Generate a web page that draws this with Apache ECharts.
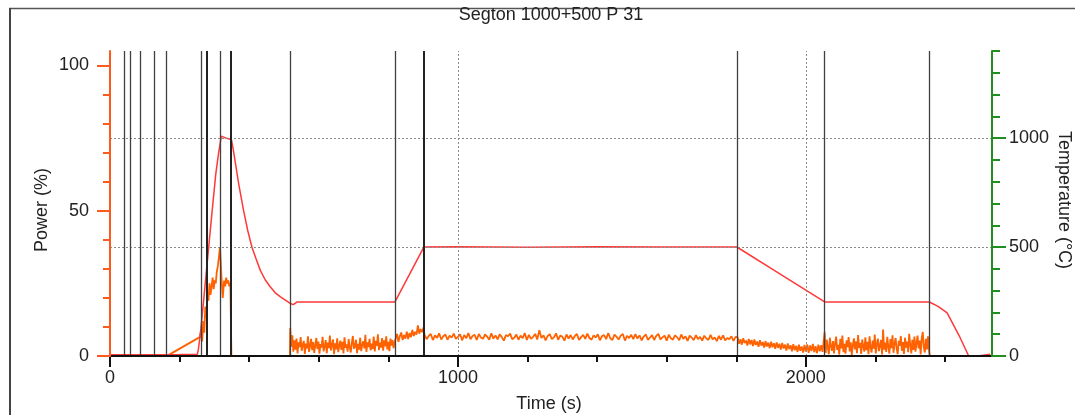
<!DOCTYPE html>
<html><head><meta charset="utf-8">
<script src="https://cdn.jsdelivr.net/npm/echarts@6/dist/echarts.min.js"></script>
<style>html,body{margin:0;padding:0;background:#fff}#c{width:1075px;height:415px}</style>
</head><body><div id="c"></div>
<script>
// ---------- texts ----------
const TITLE = 'Segton 1000+500 P 31';
const X_NAME = 'Time (s)';
const YL_NAME = 'Power (%)';
const YR_NAME = 'Temperature (°C)';

// ---------- ticks ----------
const X_MAJOR = [0, 1000, 2000];
const X_MINOR = [200, 400, 600, 800, 1200, 1400, 1600, 1800, 2200, 2400];
const P_MAJOR = [0, 50, 100];
const P_MINOR = [10, 20, 30, 40, 60, 70, 80, 90];
const T_MAJOR = [0, 500, 1000];
const T_MINOR = [100, 200, 300, 400, 600, 700, 800, 900, 1100, 1200, 1300, 1400];
const GRID_T = [500, 1000];
const GRID_X = [1000, 2000];

// ---------- event markers (s) ----------
const EVENT_THIN = [40, 57, 88, 126, 162, 263, 315.5, 518, 819, 1802, 2054, 2355];
const EVENT_THICK = [279, 348, 902];

// ---------- temperature (°C) ----------
const tempTime  = [0, 100, 200, 251, 254, 260, 270, 280, 292, 304, 312, 320, 332, 349, 355, 361, 370, 384, 396, 408, 420, 432, 446, 461, 475, 490, 504, 518, 527, 538, 600, 700, 819, 860, 902, 1000, 1200, 1400, 1600, 1802, 1812, 1900, 2000, 2054, 2200, 2355, 2380, 2406, 2440, 2468, 2495, 2500, 2530];
const tempValue = [6, 6, 7, 8, 30, 105, 270, 438, 640, 835, 930, 1009, 1001, 994, 940, 880, 789, 667, 575, 499, 445, 393, 350, 317, 290, 271, 256, 241, 236, 248, 248, 248, 248, 372, 500, 501, 499, 501, 500, 500, 490, 402, 302, 248, 248, 248, 228, 198, 95, 0, 0, 8, 8];

// ---------- power (%) ----------
const powerStartTime  = [0, 100, 168, 258, 262, 265, 268, 271, 274, 277, 280, 283, 286, 289, 292, 295, 298, 301, 304, 307, 310, 313, 316, 318, 320, 322, 324, 326, 328, 331, 334, 337, 340, 343, 346, 348, 349, 517];
const powerStartValue = [0.3, 0.3, 0.3, 6.5, 9, 5, 12, 8, 17, 13, 22, 19, 25, 21, 24, 27, 23, 26, 25, 29, 31, 34, 37.5, 33, 28, 24, 20, 23, 26, 24, 27, 25, 26, 24, 25, 25, 0, 0];
// hold at ~250 °C (518–818 s, every 3 s)
const holdA_t0 = 518, holdA_dt = 3;
const holdA = [9.6, 3.2, 7.1, 1.5, 5.4, 2.2, 6.0, 0.9, 4.7, 3.1,
  6.5, 1.8, 3.9, 5.2, 0.7, 4.3, 2.6, 6.8, 1.4, 3.5,
  5.9, 2.0, 4.8, 1.1, 3.7, 6.2, 2.4, 5.0, 0.8, 4.1,
  2.9, 6.6, 1.6, 3.3, 5.5, 1.0, 4.6, 2.7, 7.0, 1.9,
  3.8, 5.7, 0.6, 4.4, 2.3, 6.1, 1.3, 3.6, 5.3, 2.1,
  4.9, 0.9, 6.4, 2.8, 4.0, 1.5, 5.8, 3.0, 1.2, 4.5,
  6.9, 2.5, 3.4, 5.6, 1.0, 4.2, 2.2, 6.3, 1.7, 3.9,
  5.1, 2.6, 7.3, 1.4, 4.7, 3.1, 5.9, 1.9, 4.3, 2.4,
  6.7, 1.6, 5.2, 3.5, 7.5, 2.0, 4.6, 2.9, 6.2, 1.8,
  5.4, 3.3, 6.8, 2.3, 4.9, 1.7, 6.0, 3.6, 5.5, 2.7,
  4.8];
// ramp to 500 °C (821–901 s)
const rampB_t0 = 821, rampB_dt = 4;
const rampB = [5.2, 7.6, 4.9, 6.8, 8.1, 5.5, 7.2, 6.0, 8.4, 5.8,
  7.9, 6.5, 9.0, 6.9, 8.3, 7.4, 10.5, 7.7, 9.3, 8.2, 9.8];
// soak at 500 °C (904–1798 s)
const soakC_t0 = 904, soakC_dt = 6;
const soakC = [7.3, 5.8, 6.9, 7.6, 5.5, 7.1, 6.2, 7.8, 5.7, 6.8,
  7.4, 5.6, 7.0, 6.3, 7.7, 5.9, 6.6, 7.5, 5.4, 7.2,
  6.1, 7.9, 5.8, 6.9, 7.3, 5.5, 7.6, 6.4, 5.9, 7.4,
  6.7, 5.6, 7.8, 6.0, 7.1, 5.7, 7.5, 6.5, 5.3, 7.2,
  6.8, 7.7, 5.8, 6.3, 7.4, 5.6, 7.0, 6.1, 7.9, 5.5,
  7.3, 5.9, 6.6, 7.6, 5.7, 8.9, 6.2, 7.1, 5.4, 6.9,
  7.5, 5.8, 6.4, 7.8, 5.6, 7.0, 6.7, 5.3, 7.4, 6.0,
  7.2, 5.7, 6.9, 7.6, 5.5, 6.5, 7.3, 5.9, 7.7, 6.2,
  5.6, 7.1, 6.4, 7.5, 5.4, 6.8, 7.2, 5.8, 7.9, 6.1,
  5.5, 7.4, 6.6, 5.7, 7.0, 7.6, 5.3, 6.9, 6.2, 7.3,
  5.8, 7.5, 6.0, 7.1, 5.4, 6.7, 7.4, 5.6, 6.3, 7.2,
  5.5, 6.9, 7.6, 5.7, 6.4, 7.0, 5.3, 7.3, 6.1, 5.6,
  7.1, 6.5, 5.4, 7.4, 5.9, 6.8, 5.2, 7.0, 6.3, 5.5,
  7.2, 5.8, 6.6, 5.3, 7.0, 6.0, 5.5, 7.3, 5.7, 6.4,
  5.1, 6.9, 5.6, 7.1, 5.4, 6.2, 5.8, 6.8, 5.2, 6.6];
// cooling ramp (1804–2048 s)
const coolD_t0 = 1804, coolD_dt = 4;
const coolD = [6.4, 4.2, 5.8, 3.9, 6.1, 4.5, 5.3, 3.6, 5.9, 4.0,
  5.5, 3.4, 5.7, 3.8, 5.0, 3.2, 5.4, 3.6, 4.8, 2.9,
  5.1, 3.3, 4.6, 2.7, 4.9, 3.0, 4.4, 2.5, 4.7, 2.8,
  4.2, 2.2, 4.5, 2.6, 3.9, 1.9, 4.3, 2.4, 3.7, 1.6,
  4.1, 2.0, 3.5, 1.4, 3.9, 1.8, 3.3, 1.2, 3.8, 1.5,
  4.0, 1.1, 3.6, 1.7, 4.2, 1.3, 3.4, 1.0, 3.9, 1.6,
  3.7, 1.4];
// hold at ~250 °C (2054–2354 s)
const holdE_t0 = 2054, holdE_dt = 3;
const holdE = [8.2, 1.1, 5.6, 2.9, 0.6, 6.3, 3.4, 1.8, 5.1, 0.9,
  4.4, 6.7, 2.1, 3.8, 0.5, 5.9, 2.6, 7.0, 1.3, 4.2,
  0.8, 5.4, 3.1, 6.5, 1.6, 4.7, 0.4, 3.6, 6.1, 2.3,
  5.0, 1.0, 7.2, 2.8, 4.5, 0.7, 5.7, 3.3, 1.5, 6.4,
  2.0, 4.9, 0.6, 6.8, 3.0, 1.2, 5.3, 2.5, 7.4, 0.9,
  4.1, 6.0, 1.7, 3.7, 5.5, 0.5, 9.1, 2.2, 4.6, 1.4,
  6.6, 3.2, 0.8, 5.8, 2.7, 7.1, 1.1, 4.3, 6.2, 2.4,
  0.6, 5.2, 3.5, 6.9, 1.8, 4.8, 0.7, 6.3, 2.9, 5.0,
  1.3, 7.6, 3.9, 0.9, 5.6, 2.1, 6.7, 1.5, 4.4, 7.0,
  2.6, 5.3, 0.5, 6.1, 8.3, 3.0, 1.2, 5.9, 2.3, 6.8,
  1.9];
const powerEndTime  = [2356, 2535];
const powerEndValue = [0, 0];

// ---------- build ----------
const pairs = (ts, vs) => ts.map((t, i) => [t, vs[i]]);
const sampled = (t0, dt, vs) => vs.map((v, i) => [t0 + i * dt, v]);
const powerData = [].concat(
  pairs(powerStartTime, powerStartValue),
  sampled(holdA_t0, holdA_dt, holdA),
  sampled(rampB_t0, rampB_dt, rampB),
  sampled(soakC_t0, soakC_dt, soakC),
  sampled(coolD_t0, coolD_dt, coolD),
  sampled(holdE_t0, holdE_dt, holdE),
  pairs(powerEndTime, powerEndValue)
);
const tempData = pairs(tempTime, tempValue);

const FONT = '"Liberation Sans", Arial, Helvetica, sans-serif';
const ORANGE_AX = '#ff5a1e', GREEN_AX = '#1f8f1f', INK = '#222';
const X_MAX = 2535, P_MAX = 105, T_MAX = 1400;

const lbl = (vals, margin) => ({ customValues: vals, fontSize: 18, color: INK, fontFamily: FONT, margin, formatter: v => String(v) });
const noSplit = { show: false };

const markData = [].concat(
  GRID_T.map(v => ({ yAxis: v, lineStyle: { color: '#8a8a8a', width: 1, type: [2, 2] } })),
  GRID_X.map(v => ({ xAxis: v, lineStyle: { color: '#8a8a8a', width: 1, type: [2, 2] } })),
  EVENT_THIN.map(v => ({ xAxis: v, lineStyle: { color: '#404040', width: 1.3, type: 'solid' } })),
  EVENT_THICK.map(v => ({ xAxis: v, lineStyle: { color: '#222', width: 2, type: 'solid' } }))
);

const chart = echarts.init(document.getElementById('c'), null, { renderer: 'canvas' });
chart.setOption({
  animation: false,
  backgroundColor: '#fff',
  grid: { left: 110, right: 83, top: 51, bottom: 59, containLabel: false },
  xAxis: [
    { type: 'value', min: 0, max: X_MAX, position: 'bottom', z: 10,
      axisLine: { show: true, onZero: false, lineStyle: { color: '#111', width: 2 } },
      axisTick: { show: true, customValues: X_MAJOR, length: 11, lineStyle: { color: '#111', width: 2 } },
      axisLabel: lbl(X_MAJOR, 13), splitLine: noSplit },
    { type: 'value', min: 0, max: X_MAX, position: 'bottom', z: 10,
      axisLine: { show: false, onZero: false },
      axisTick: { show: true, customValues: X_MINOR, length: 6, lineStyle: { color: '#111', width: 2 } },
      axisLabel: { show: false }, splitLine: noSplit }
  ],
  yAxis: [
    { type: 'value', min: 0, max: P_MAX, position: 'left', z: 11,
      axisLine: { show: true, onZero: false, lineStyle: { color: ORANGE_AX, width: 2 } },
      axisTick: { show: true, customValues: P_MAJOR, length: 13, lineStyle: { color: ORANGE_AX, width: 2 } },
      axisLabel: lbl(P_MAJOR, 21), splitLine: noSplit },
    { type: 'value', min: 0, max: T_MAX, position: 'right', z: 11,
      axisLine: { show: true, onZero: false, lineStyle: { color: GREEN_AX, width: 2 } },
      axisTick: { show: true, customValues: T_MAJOR, length: 14, lineStyle: { color: GREEN_AX, width: 2 } },
      axisLabel: lbl(T_MAJOR, 17), splitLine: noSplit },
    { type: 'value', min: 0, max: P_MAX, position: 'left', z: 11,
      axisLine: { show: false, onZero: false },
      axisTick: { show: true, customValues: P_MINOR, length: 7, lineStyle: { color: ORANGE_AX, width: 2 } },
      axisLabel: { show: false }, splitLine: noSplit },
    { type: 'value', min: 0, max: T_MAX, position: 'right', z: 11,
      axisLine: { show: false, onZero: false },
      axisTick: { show: true, customValues: T_MINOR, length: 8, lineStyle: { color: GREEN_AX, width: 2 } },
      axisLabel: { show: false }, splitLine: noSplit }
  ],
  series: [
    { name: 'markers', type: 'line', xAxisIndex: 0, yAxisIndex: 1, data: [], z: 1, silent: true,
      markLine: { silent: true, symbol: ['none', 'none'], label: { show: false }, animation: false, data: markData } },
    { name: 'Power', type: 'line', xAxisIndex: 0, yAxisIndex: 0, data: powerData, showSymbol: false,
      lineStyle: { color: '#ff6200', width: 1.8 }, itemStyle: { color: '#ff6200' }, z: 3, silent: true },
    { name: 'Temperature', type: 'line', xAxisIndex: 0, yAxisIndex: 1, data: tempData, showSymbol: false,
      lineStyle: { color: '#ff3838', width: 1.5 }, itemStyle: { color: '#ff3838' }, z: 4, silent: true }
  ],
  graphic: [
    { type: 'line', shape: { x1: 9, y1: 8.5, x2: 1075, y2: 8.5 }, style: { stroke: '#555', lineWidth: 1.5 }, silent: true },
    { type: 'line', shape: { x1: 10, y1: 8, x2: 10, y2: 415 }, style: { stroke: '#444', lineWidth: 2 }, silent: true },
    { type: 'text', x: 551, y: 15, silent: true,
      style: { text: TITLE, font: '18px ' + FONT, fill: INK, align: 'center', verticalAlign: 'middle' } },
    { type: 'text', x: 549, y: 404, silent: true,
      style: { text: X_NAME, font: '18px ' + FONT, fill: INK, align: 'center', verticalAlign: 'middle' } },
    { type: 'text', x: 42, y: 210, rotation: Math.PI / 2, silent: true,
      style: { text: YL_NAME, font: '18px ' + FONT, fill: INK, align: 'center', verticalAlign: 'middle' } },
    { type: 'text', x: 1064, y: 200, rotation: -Math.PI / 2, silent: true,
      style: { text: YR_NAME, font: '18px ' + FONT, fill: INK, align: 'center', verticalAlign: 'middle' } }
  ]
});
</script>
</body></html>
